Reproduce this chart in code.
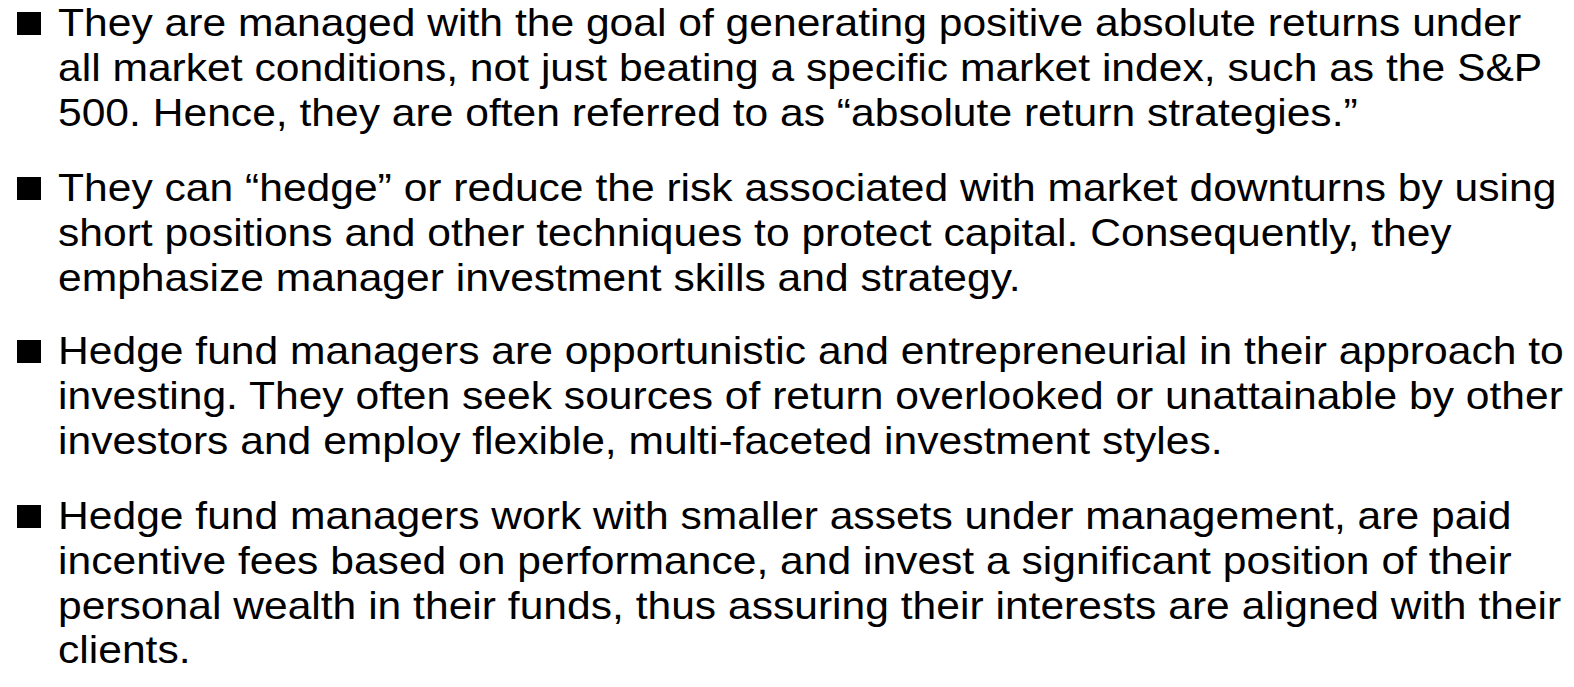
<!DOCTYPE html>
<html>
<head>
<meta charset="utf-8">
<script src="https://cdn.jsdelivr.net/npm/chart.js@4.4.0/dist/chart.umd.min.js"></script>
<style>
    html, body {
        margin: 0;
        padding: 0;
        background: #ffffff;
        width: 1574px;
        height: 687px;
        overflow: hidden;
    }
    #slide {
        position: relative;
        width: 1574px;
        height: 687px;
        font-family: "Liberation Sans", Arial, sans-serif;
        font-size: 39px;
        color: #000000;
    }
    .item {
        position: absolute;
        left: 58px;
    }
    .item .text {
        line-height: 44.8px;
        white-space: nowrap;
        transform: scaleX(1.092);
        transform-origin: 0 0;
    }
    .item .bullet {
        position: absolute;
        left: -41px;
        top: 11px;
        width: 24px;
        height: 23px;
        background: #000000;
    }
</style>
</head>
<body>
<div id="slide"></div>

<script>
// Bullet text, one array of lines per bullet
const bullet1 = [
    'They are managed with the goal of generating positive absolute returns under',
    'all market conditions, not just beating a specific market index, such as the S&P',
    '500. Hence, they are often referred to as \u201cabsolute return strategies.\u201d'
];
const bullet2 = [
    'They can \u201chedge\u201d or reduce the risk associated with market downturns by using',
    'short positions and other techniques to protect capital. Consequently, they',
    'emphasize manager investment skills and strategy.'
];
const bullet3 = [
    'Hedge fund managers are opportunistic and entrepreneurial in their approach to',
    'investing. They often seek sources of return overlooked or unattainable by other',
    'investors and employ flexible, multi-faceted investment styles.'
];
const bullet4 = [
    'Hedge fund managers work with smaller assets under management, are paid',
    'incentive fees based on performance, and invest a significant position of their',
    'personal wealth in their funds, thus assuring their interests are aligned with their',
    'clients.'
];

// Top of each bullet block (px)
const bulletTops = [1, 166, 329, 494];

function buildSlide() {
    const slide = document.getElementById('slide');
    const bullets = [bullet1, bullet2, bullet3, bullet4];

    bullets.forEach((lines, i) => {
        const item = document.createElement('div');
        item.className = 'item';
        item.style.top = bulletTops[i] + 'px';

        const mark = document.createElement('div');
        mark.className = 'bullet';
        item.appendChild(mark);

        const text = document.createElement('div');
        text.className = 'text';
        lines.forEach((line, j) => {
            if (j > 0) text.appendChild(document.createElement('br'));
            text.appendChild(document.createTextNode(line));
        });
        item.appendChild(text);

        slide.appendChild(item);
    });
}

document.addEventListener('DOMContentLoaded', buildSlide);
</script>
</body>
</html>
